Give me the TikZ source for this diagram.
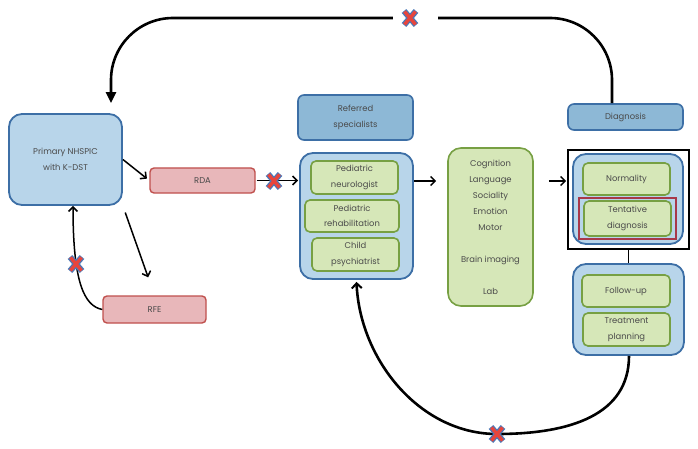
\documentclass[tikz,border=0pt]{standalone}
\usepackage{fontspec}
\setmainfont{Poppins}
\usetikzlibrary{arrows.meta}
\definecolor{lblue}{HTML}{B8D5EA}
\definecolor{dblue}{HTML}{8DB8D6}
\definecolor{bborder}{HTML}{3D6FA6}
\definecolor{lgreen}{HTML}{D6E7B8}
\definecolor{gborder}{HTML}{77A043}
\definecolor{lpink}{HTML}{E8B7BA}
\definecolor{pborder}{HTML}{C0504D}
\definecolor{rrect}{HTML}{A8384A}
\definecolor{txt}{HTML}{4A4A4A}
\definecolor{xblue}{HTML}{4A78B8}
\definecolor{xred}{HTML}{E8453C}
\tikzset{
  base/.style={text=txt, align=center, font=\fontsize{8.4}{15.5}\selectfont, inner sep=0pt},
  bluecont/.style={base, draw=bborder, fill=lblue, line width=1.8pt, rounded corners=13pt},
  darkbox/.style={base, draw=bborder, fill=dblue, line width=1.6pt, rounded corners=6pt},
  greenbox/.style={base, draw=gborder, fill=lgreen, line width=1.6pt, rounded corners=5pt},
  pinkbox/.style={base, draw=pborder, fill=lpink, line width=1.4pt, rounded corners=4pt},
  arr/.style={draw=black, line width=1.5pt, -{Straight Barb[length=4.5pt,width=9pt,line width=1.5pt]}},
  bigloop/.style={draw=black, line width=2.6pt},
  xm/.pic={
    \draw[xblue, line width=6pt] (-6,-7) -- (6,7) (-6,7) -- (6,-7);
    \draw[xred, line width=3.4pt] (-5.5,-6.5) -- (5.5,6.5) (-5.5,6.5) -- (5.5,-6.5);
  }
}
\begin{document}
\begin{tikzpicture}[x=1pt,y=-1pt]
\useasboundingbox[fill=white] (0,0) rectangle (698,449);

% left
\node[bluecont, minimum width=113pt, minimum height=91pt] (prim) at (65.5,159.5) {Primary NHSPIC\\with K-DST};
\node[pinkbox, minimum width=105pt, minimum height=25pt] (rda) at (202.5,180.5) {RDA};
\node[pinkbox, minimum width=103pt, minimum height=27pt] (rfe) at (154.5,309.5) {RFE};

% specialists
\node[darkbox, minimum width=115pt, minimum height=45pt] (ref) at (355.5,117.5) {Referred\\specialists};
\node[bluecont, minimum width=113pt, minimum height=126pt] (spec) at (356.5,216) {};
\node[greenbox, minimum width=87pt, minimum height=33pt] (neuro) at (354.5,177.5) {Pediatric\\neurologist};
\node[greenbox, minimum width=94pt, minimum height=32pt] (rehab) at (352,216) {Pediatric\\rehabilitation};
\node[greenbox, minimum width=87pt, minimum height=33pt] (psych) at (355.5,254.5) {Child\\psychiatrist};

% tests
\node[greenbox, rounded corners=13pt, minimum width=85pt, minimum height=158pt, font=\fontsize{8.4}{16}\selectfont] (tests) at (490.5,227)
  {Cognition\\Language\\Sociality\\Emotion\\Motor\\[16pt]Brain imaging\\[16pt]Lab};

% diagnosis
\node[darkbox, minimum width=115pt, minimum height=26pt] (diag) at (625.5,117) {Diagnosis};
\node[draw=black, line width=1.6pt, minimum width=121pt, minimum height=99pt, inner sep=0pt] (black) at (628.5,199.5) {};
\node[bluecont, minimum width=110pt, minimum height=90pt] (dcont) at (628,199) {};
\node[greenbox, minimum width=87pt, minimum height=32pt] (norm) at (626.5,179) {Normality};
\node[draw=rrect, line width=1.6pt, minimum width=97pt, minimum height=41pt, inner sep=0pt] (redr) at (627.5,218.5) {};
\node[greenbox, minimum width=87pt, minimum height=35pt] (tent) at (627.5,218.5) {Tentative\\diagnosis};

% follow-up
\node[bluecont, minimum width=111pt, minimum height=91pt] (fucont) at (628.5,309.5) {};
\node[greenbox, minimum width=88pt, minimum height=32pt] (fu) at (626,291) {Follow-up};
\node[greenbox, minimum width=87pt, minimum height=33pt] (treat) at (626.5,329.5) {Treatment\\planning};

% connectors
\draw[arr, shorten >=3pt] (prim.east) -- (rda.west);
\draw[arr, shorten <=7pt, shorten >=19pt] (prim.south east) -- (rfe.north);
\draw[arr] (rfe.west) .. controls (84,306) and (73,282) .. ([xshift=7.5pt]prim.south);
\pic at (76,264) {xm};
\draw[arr, shorten <=1pt, shorten >=1pt] (rda.east) -- (spec.west |- rda.east);
\pic at (274,181) {xm};
\draw[arr, shorten >=11pt] ([yshift=35pt]spec.east) -- ([yshift=35pt]spec.east -| tests.west);
\draw[arr, shorten <=15pt, shorten >=1pt] ([yshift=46pt]tests.east) -- ([yshift=46pt]tests.east -| black.west);
\draw[line width=1.6pt] (black.south) -- (fucont.north);

% top loop
\draw[bigloop, rounded corners=62pt, -{Triangle[length=11pt,width=10pt]}, shorten >=10pt]
  ([xshift=-13.5pt]diag.north) |- (400,18) -| ([xshift=45.5pt]prim.north);
\fill[white] (393,10) rectangle (438,26);
\pic at (410,18) {xm};

% bottom loop
\draw[bigloop, -{Straight Barb[length=5pt,width=10pt,line width=2pt]}]
  ([xshift=0.5pt]fucont.south) .. controls (629,415) and (570,434) .. (497,434)
  .. controls (420,434) and (360,360) .. ([yshift=-2pt]spec.south);
\pic at (497,434) {xm};
\end{tikzpicture}
\end{document}
